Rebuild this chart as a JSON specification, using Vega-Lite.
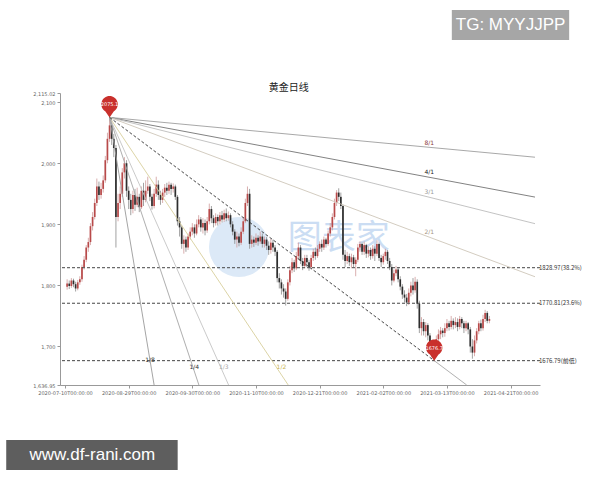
{
  "$schema": "https://vega.github.io/schema/vega-lite/v6.json",
  "width": 480,
  "height": 292,
  "autosize": "none",
  "padding": {"left": 60, "top": 93, "right": 60, "bottom": 95},
  "background": "white",
  "config": {"view": {"stroke": null}, "font": "Noto Sans CJK SC"},
  "datasets": {
    "k": [
      {"d":1,"o":1798,"h":1810,"l":1793,"c":1803},{"d":2,"o":1803,"h":1808,"l":1794,"c":1799},{"d":3,"o":1799,"h":1812,"l":1796,"c":1808},{"d":4,"o":1808,"h":1811,"l":1797,"c":1802},{"d":5,"o":1802,"h":1806,"l":1790,"c":1795},
      {"d":6,"o":1795,"h":1809,"l":1792,"c":1805},{"d":7,"o":1805,"h":1815,"l":1801,"c":1810},{"d":8,"o":1810,"h":1834,"l":1806,"c":1830},{"d":9,"o":1830,"h":1848,"l":1826,"c":1842},{"d":10,"o":1842,"h":1866,"l":1838,"c":1862},
      {"d":11,"o":1862,"h":1878,"l":1855,"c":1871},{"d":12,"o":1871,"h":1902,"l":1866,"c":1897},{"d":13,"o":1897,"h":1920,"l":1890,"c":1912},{"d":14,"o":1912,"h":1942,"l":1908,"c":1935},{"d":15,"o":1935,"h":1975,"l":1930,"c":1962},
      {"d":16,"o":1962,"h":1970,"l":1940,"c":1948},{"d":17,"o":1948,"h":1968,"l":1942,"c":1958},{"d":18,"o":1958,"h":1980,"l":1952,"c":1972},{"d":19,"o":1972,"h":2012,"l":1968,"c":2005},{"d":20,"o":2005,"h":2050,"l":2000,"c":2040},
      {"d":21,"o":2040,"h":2075.1,"l":2035,"c":2062},{"d":22,"o":2062,"h":2072,"l":2030,"c":2040},{"d":23,"o":2040,"h":2048,"l":2010,"c":2025},{"d":24,"o":2025,"h":2030,"l":1862,"c":1912},{"d":25,"o":1912,"h":1950,"l":1905,"c":1935},
      {"d":26,"o":1935,"h":1962,"l":1925,"c":1950},{"d":27,"o":1950,"h":1992,"l":1945,"c":1985},{"d":28,"o":1985,"h":2010,"l":1975,"c":2000},{"d":29,"o":2000,"h":2005,"l":1945,"c":1955},{"d":30,"o":1955,"h":1962,"l":1925,"c":1940},
      {"d":31,"o":1940,"h":1950,"l":1915,"c":1925},{"d":32,"o":1925,"h":1955,"l":1918,"c":1948},{"d":33,"o":1948,"h":1958,"l":1922,"c":1932},{"d":34,"o":1932,"h":1960,"l":1928,"c":1945},{"d":35,"o":1945,"h":1950,"l":1920,"c":1928},
      {"d":36,"o":1928,"h":1962,"l":1925,"c":1955},{"d":37,"o":1955,"h":1968,"l":1930,"c":1940},{"d":38,"o":1940,"h":1972,"l":1936,"c":1955},{"d":39,"o":1955,"h":1978,"l":1950,"c":1962},{"d":40,"o":1962,"h":1966,"l":1938,"c":1945},
      {"d":41,"o":1945,"h":1950,"l":1924,"c":1930},{"d":42,"o":1930,"h":1958,"l":1926,"c":1950},{"d":43,"o":1950,"h":1978,"l":1945,"c":1965},{"d":44,"o":1965,"h":1972,"l":1940,"c":1948},{"d":45,"o":1948,"h":1955,"l":1932,"c":1940},
      {"d":46,"o":1940,"h":1958,"l":1935,"c":1952},{"d":47,"o":1952,"h":1966,"l":1945,"c":1960},{"d":48,"o":1960,"h":1968,"l":1948,"c":1955},{"d":49,"o":1955,"h":1970,"l":1950,"c":1965},{"d":50,"o":1965,"h":1968,"l":1948,"c":1958},
      {"d":51,"o":1958,"h":1967,"l":1952,"c":1962},{"d":52,"o":1962,"h":1965,"l":1940,"c":1945},{"d":53,"o":1945,"h":1948,"l":1898,"c":1905},{"d":54,"o":1905,"h":1912,"l":1880,"c":1895},{"d":55,"o":1895,"h":1898,"l":1860,"c":1868},
      {"d":56,"o":1868,"h":1882,"l":1852,"c":1875},{"d":57,"o":1875,"h":1880,"l":1855,"c":1862},{"d":58,"o":1862,"h":1885,"l":1858,"c":1880},{"d":59,"o":1880,"h":1895,"l":1875,"c":1888},{"d":60,"o":1888,"h":1902,"l":1882,"c":1895},
      {"d":61,"o":1895,"h":1900,"l":1878,"c":1885},{"d":62,"o":1885,"h":1908,"l":1882,"c":1900},{"d":63,"o":1900,"h":1915,"l":1895,"c":1908},{"d":64,"o":1908,"h":1912,"l":1888,"c":1895},{"d":65,"o":1895,"h":1910,"l":1885,"c":1902},
      {"d":66,"o":1902,"h":1908,"l":1882,"c":1890},{"d":67,"o":1890,"h":1912,"l":1886,"c":1905},{"d":68,"o":1905,"h":1934,"l":1900,"c":1925},{"d":69,"o":1925,"h":1930,"l":1902,"c":1910},{"d":70,"o":1910,"h":1915,"l":1895,"c":1902},
      {"d":71,"o":1902,"h":1918,"l":1898,"c":1912},{"d":72,"o":1912,"h":1916,"l":1898,"c":1905},{"d":73,"o":1905,"h":1920,"l":1900,"c":1915},{"d":74,"o":1915,"h":1922,"l":1903,"c":1908},{"d":75,"o":1908,"h":1924,"l":1904,"c":1918},
      {"d":76,"o":1918,"h":1926,"l":1905,"c":1910},{"d":77,"o":1910,"h":1921,"l":1906,"c":1915},{"d":78,"o":1915,"h":1918,"l":1895,"c":1900},{"d":79,"o":1900,"h":1905,"l":1882,"c":1888},{"d":80,"o":1888,"h":1892,"l":1868,"c":1875},
      {"d":81,"o":1875,"h":1888,"l":1862,"c":1880},{"d":82,"o":1880,"h":1885,"l":1864,"c":1870},{"d":83,"o":1870,"h":1895,"l":1866,"c":1888},{"d":84,"o":1888,"h":1912,"l":1884,"c":1905},{"d":85,"o":1905,"h":1942,"l":1902,"c":1935},
      {"d":86,"o":1935,"h":1962,"l":1930,"c":1950},{"d":87,"o":1950,"h":1958,"l":1860,"c":1868},{"d":88,"o":1868,"h":1882,"l":1862,"c":1875},{"d":89,"o":1875,"h":1880,"l":1863,"c":1870},{"d":90,"o":1870,"h":1885,"l":1866,"c":1878},
      {"d":91,"o":1878,"h":1882,"l":1865,"c":1872},{"d":92,"o":1872,"h":1888,"l":1868,"c":1880},{"d":93,"o":1880,"h":1885,"l":1862,"c":1868},{"d":94,"o":1868,"h":1880,"l":1862,"c":1875},{"d":95,"o":1875,"h":1879,"l":1858,"c":1865},
      {"d":96,"o":1865,"h":1872,"l":1850,"c":1858},{"d":97,"o":1858,"h":1876,"l":1852,"c":1870},{"d":98,"o":1870,"h":1875,"l":1855,"c":1862},{"d":99,"o":1862,"h":1866,"l":1848,"c":1855},{"d":100,"o":1855,"h":1858,"l":1805,"c":1812},
      {"d":101,"o":1812,"h":1820,"l":1795,"c":1805},{"d":102,"o":1805,"h":1810,"l":1785,"c":1795},{"d":103,"o":1795,"h":1802,"l":1780,"c":1790},{"d":104,"o":1790,"h":1795,"l":1767,"c":1778},{"d":105,"o":1778,"h":1810,"l":1775,"c":1805},
      {"d":106,"o":1805,"h":1832,"l":1800,"c":1825},{"d":107,"o":1825,"h":1845,"l":1820,"c":1838},{"d":108,"o":1838,"h":1842,"l":1822,"c":1828},{"d":109,"o":1828,"h":1855,"l":1825,"c":1848},{"d":110,"o":1848,"h":1870,"l":1842,"c":1862},
      {"d":111,"o":1862,"h":1866,"l":1835,"c":1840},{"d":112,"o":1840,"h":1845,"l":1825,"c":1832},{"d":113,"o":1832,"h":1850,"l":1828,"c":1845},{"d":114,"o":1845,"h":1850,"l":1830,"c":1838},{"d":115,"o":1838,"h":1842,"l":1824,"c":1830},
      {"d":116,"o":1830,"h":1850,"l":1826,"c":1845},{"d":117,"o":1845,"h":1860,"l":1840,"c":1855},{"d":118,"o":1855,"h":1862,"l":1842,"c":1848},{"d":119,"o":1848,"h":1866,"l":1845,"c":1860},{"d":120,"o":1860,"h":1872,"l":1855,"c":1868},
      {"d":121,"o":1868,"h":1875,"l":1855,"c":1862},{"d":122,"o":1862,"h":1880,"l":1858,"c":1875},{"d":123,"o":1875,"h":1878,"l":1862,"c":1868},{"d":124,"o":1868,"h":1890,"l":1865,"c":1885},{"d":125,"o":1885,"h":1902,"l":1880,"c":1895},
      {"d":126,"o":1895,"h":1918,"l":1890,"c":1912},{"d":127,"o":1912,"h":1942,"l":1908,"c":1935},{"d":128,"o":1935,"h":1956,"l":1930,"c":1952},{"d":129,"o":1952,"h":1959,"l":1938,"c":1945},{"d":130,"o":1945,"h":1952,"l":1925,"c":1930},
      {"d":131,"o":1930,"h":1932,"l":1842,"c":1850},{"d":132,"o":1850,"h":1858,"l":1830,"c":1840},{"d":133,"o":1840,"h":1855,"l":1835,"c":1848},{"d":134,"o":1848,"h":1852,"l":1832,"c":1838},{"d":135,"o":1838,"h":1852,"l":1828,"c":1846},
      {"d":136,"o":1846,"h":1850,"l":1830,"c":1835},{"d":137,"o":1835,"h":1846,"l":1815,"c":1842},{"d":138,"o":1842,"h":1868,"l":1838,"c":1862},{"d":139,"o":1862,"h":1872,"l":1855,"c":1868},{"d":140,"o":1868,"h":1870,"l":1850,"c":1855},
      {"d":141,"o":1855,"h":1872,"l":1850,"c":1866},{"d":142,"o":1866,"h":1868,"l":1845,"c":1852},{"d":143,"o":1852,"h":1864,"l":1846,"c":1858},{"d":144,"o":1858,"h":1862,"l":1842,"c":1848},{"d":145,"o":1848,"h":1866,"l":1844,"c":1860},
      {"d":146,"o":1860,"h":1864,"l":1840,"c":1852},{"d":147,"o":1852,"h":1874,"l":1848,"c":1868},{"d":148,"o":1868,"h":1870,"l":1840,"c":1845},{"d":149,"o":1845,"h":1850,"l":1830,"c":1838},{"d":150,"o":1838,"h":1852,"l":1834,"c":1848},
      {"d":151,"o":1848,"h":1860,"l":1842,"c":1855},{"d":152,"o":1855,"h":1858,"l":1835,"c":1840},{"d":153,"o":1840,"h":1845,"l":1825,"c":1830},{"d":154,"o":1830,"h":1835,"l":1800,"c":1808},{"d":155,"o":1808,"h":1826,"l":1805,"c":1820},
      {"d":156,"o":1820,"h":1832,"l":1815,"c":1826},{"d":157,"o":1826,"h":1830,"l":1805,"c":1810},{"d":158,"o":1810,"h":1815,"l":1792,"c":1798},{"d":159,"o":1798,"h":1802,"l":1778,"c":1785},{"d":160,"o":1785,"h":1792,"l":1772,"c":1780},
      {"d":161,"o":1780,"h":1786,"l":1766,"c":1772},{"d":162,"o":1772,"h":1795,"l":1768,"c":1788},{"d":163,"o":1788,"h":1806,"l":1782,"c":1800},{"d":164,"o":1800,"h":1812,"l":1785,"c":1792},{"d":165,"o":1792,"h":1814,"l":1788,"c":1806},
      {"d":166,"o":1806,"h":1810,"l":1762,"c":1770},{"d":167,"o":1770,"h":1775,"l":1722,"c":1730},{"d":168,"o":1730,"h":1748,"l":1718,"c":1740},{"d":169,"o":1740,"h":1745,"l":1718,"c":1725},{"d":170,"o":1725,"h":1740,"l":1715,"c":1735},
      {"d":171,"o":1735,"h":1738,"l":1710,"c":1718},{"d":172,"o":1718,"h":1722,"l":1692,"c":1700},{"d":173,"o":1700,"h":1705,"l":1682,"c":1688},{"d":174,"o":1688,"h":1706,"l":1676.79,"c":1700},{"d":175,"o":1700,"h":1718,"l":1695,"c":1712},
      {"d":176,"o":1712,"h":1728,"l":1705,"c":1720},{"d":177,"o":1720,"h":1732,"l":1712,"c":1726},{"d":178,"o":1726,"h":1730,"l":1715,"c":1722},{"d":179,"o":1722,"h":1738,"l":1716,"c":1730},{"d":180,"o":1730,"h":1745,"l":1725,"c":1738},
      {"d":181,"o":1738,"h":1742,"l":1726,"c":1732},{"d":182,"o":1732,"h":1750,"l":1728,"c":1742},{"d":183,"o":1742,"h":1746,"l":1728,"c":1735},{"d":184,"o":1735,"h":1748,"l":1730,"c":1740},{"d":185,"o":1740,"h":1746,"l":1725,"c":1732},
      {"d":186,"o":1732,"h":1750,"l":1728,"c":1745},{"d":187,"o":1745,"h":1748,"l":1730,"c":1738},{"d":188,"o":1738,"h":1742,"l":1722,"c":1730},{"d":189,"o":1730,"h":1742,"l":1725,"c":1738},{"d":190,"o":1738,"h":1740,"l":1720,"c":1728},
      {"d":191,"o":1728,"h":1732,"l":1690,"c":1700},{"d":192,"o":1700,"h":1712,"l":1680,"c":1690},{"d":193,"o":1690,"h":1718,"l":1684,"c":1710},{"d":194,"o":1710,"h":1730,"l":1705,"c":1725},{"d":195,"o":1725,"h":1742,"l":1720,"c":1738},
      {"d":196,"o":1738,"h":1744,"l":1725,"c":1730},{"d":197,"o":1730,"h":1752,"l":1726,"c":1745},{"d":198,"o":1745,"h":1760,"l":1740,"c":1755},{"d":199,"o":1755,"h":1758,"l":1738,"c":1742},{"d":200,"o":1742,"h":1750,"l":1738,"c":1745}
    ],
    "fan": [
      {"k":"8/1","d1":21,"p1":2075.1,"d2":221.5,"p2":2009.9},
      {"k":"4/1","d1":21,"p1":2075.1,"d2":221.5,"p2":1944.6},
      {"k":"3/1","d1":21,"p1":2075.1,"d2":221.5,"p2":1901.1},
      {"k":"2/1","d1":21,"p1":2075.1,"d2":221.5,"p2":1814.2},
      {"k":"1/1","d1":21,"p1":2075.1,"d2":174,"p2":1676.79},
      {"k":"1/1x","d1":174,"p1":1676.79,"d2":189.3,"p2":1636.95},
      {"k":"1/2","d1":21,"p1":2075.1,"d2":105.2,"p2":1636.95},
      {"k":"1/3","d1":21,"p1":2075.1,"d2":77.1,"p2":1636.95},
      {"k":"1/4","d1":21,"p1":2075.1,"d2":63.1,"p2":1636.95},
      {"k":"1/8","d1":21,"p1":2075.1,"d2":42.0,"p2":1636.95}
    ],
    "lab": [
      {"k":"8/1","d":171.7,"p":2033.2},
      {"k":"4/1","d":171.7,"p":1985.7},
      {"k":"3/1","d":171.7,"p":1952.9},
      {"k":"2/1","d":171.7,"p":1887.5},
      {"k":"1/8","d":40.1,"p":1677.9},
      {"k":"1/4","d":60.9,"p":1666.4},
      {"k":"1/3","d":74.8,"p":1666.4},
      {"k":"1/2","d":102,"p":1666.4}
    ],
    "lv": [
      {"p":1828.97,"t":"1828.97(38.2%)"},
      {"p":1770.81,"t":"1770.81(23.6%)"},
      {"p":1676.79,"t":"1676.79(前低)"}
    ],
    "pins": [
      {"d":21,"p":2075.1,"t":"2075.1"},
      {"d":174,"p":1676.79,"t":"1676.7"}
    ]
  },
  "encoding": {
    "x": {"type": "quantitative"},
    "y": {"type": "quantitative"}
  },
  "layer": [
    {
      "data": {"values": [{"d": 82, "p": 1863}]},
      "mark": {"type": "point", "filled": true, "size": 3600, "color": "#c5dbf2", "opacity": 0.6},
      "encoding": {"x": {"field": "d", "type": "quantitative"}, "y": {"field": "p", "type": "quantitative"}}
    },
    {
      "data": {"values": [{"d": 129, "p": 1876, "t": "图表家"}]},
      "mark": {"type": "text", "fontSize": 34, "color": "#a9c8ec", "opacity": 0.6, "font": "Noto Sans CJK SC"},
      "encoding": {"x": {"field": "d", "type": "quantitative"}, "y": {"field": "p", "type": "quantitative"}, "text": {"field": "t"}}
    },
    {
      "data": {"name": "k"},
      "mark": {"type": "rule", "strokeWidth": 0.8},
      "encoding": {
        "x": {"field": "d", "type": "quantitative", "scale": {"domain": [0, 221.5], "nice": false, "zero": false},
          "axis": {"values": [0, 30, 60, 90, 120, 150, 180, 210], "labelExpr": "['2020-07-10T00:00:00','2020-08-29T00:00:00','2020-09-30T00:00:00','2020-11-10T00:00:00','2020-12-21T00:00:00','2021-02-02T00:00:00','2021-03-13T00:00:00','2021-04-21T00:00:00'][round(datum.value/30)]",
            "title": null, "grid": false, "labelFontSize": 5, "labelColor": "#666666", "domainColor": "#999999", "tickColor": "#999999", "tickSize": 3, "labelPadding": 2, "labelFont": "DejaVu Sans"}},
        "y": {"field": "l", "type": "quantitative", "scale": {"domain": [1636.95, 2115.02], "nice": false, "zero": false},
          "axis": {"values": [1636.95, 1700, 1800, 1900, 2000, 2100, 2115.02], "format": ",.2~f", "title": null, "grid": false, "labelFontSize": 5, "labelColor": "#666666", "domainColor": "#999999", "tickColor": "#999999", "tickSize": 3, "labelPadding": 2, "labelFont": "DejaVu Sans"}},
        "y2": {"field": "h"},
        "color": {"condition": {"test": "datum.c >= datum.o", "value": "#cf9a9a"}, "value": "#8a8a8a"}
      }
    },
    {
      "data": {"name": "k"},
      "mark": {"type": "bar", "size": 1.7},
      "encoding": {
        "x": {"field": "d", "type": "quantitative"},
        "y": {"field": "o", "type": "quantitative"},
        "y2": {"field": "c"},
        "color": {"condition": {"test": "datum.c >= datum.o", "value": "#b84a4a"}, "value": "#2e2e2e"}
      }
    },
    {
      "data": {"name": "lv"},
      "mark": {"type": "rule", "strokeDash": [3, 2], "strokeWidth": 1, "color": "#444444"},
      "encoding": {"y": {"field": "p", "type": "quantitative"}}
    },
    {
      "data": {"name": "lv"},
      "mark": {"type": "text", "align": "left", "baseline": "middle", "fontSize": 6, "color": "#333333", "dx": 4, "font": "Noto Sans CJK SC"},
      "encoding": {"x": {"datum": 221.5, "type": "quantitative"}, "y": {"field": "p", "type": "quantitative"}, "text": {"field": "t"}}
    },
    {
      "data": {"name": "fan"},
      "transform": [{"filter": "datum.k != '1/1'"}],
      "mark": {"type": "rule", "strokeWidth": 0.9},
      "encoding": {
        "x": {"field": "d1", "type": "quantitative"},
        "y": {"field": "p1", "type": "quantitative"},
        "x2": {"field": "d2"},
        "y2": {"field": "p2"},
        "color": {"field": "k", "type": "nominal", "legend": null,
          "scale": {"domain": ["8/1","4/1","3/1","2/1","1/1x","1/2","1/3","1/4","1/8"], "range": ["#9e9e9e","#747474","#bcbcbc","#cec6b9","#a8a8a8","#d8cf9c","#c4c4c4","#a5a5a5","#9a9a9a"]}}
      }
    },
    {
      "data": {"name": "fan"},
      "transform": [{"filter": "datum.k == '1/1'"}],
      "mark": {"type": "rule", "strokeWidth": 0.9, "strokeDash": [3, 2], "color": "#333333"},
      "encoding": {
        "x": {"field": "d1", "type": "quantitative"},
        "y": {"field": "p1", "type": "quantitative"},
        "x2": {"field": "d2"},
        "y2": {"field": "p2"}
      }
    },
    {
      "data": {"name": "lab"},
      "mark": {"type": "text", "fontSize": 6, "align": "center", "baseline": "middle", "font": "DejaVu Sans"},
      "encoding": {
        "x": {"field": "d", "type": "quantitative"},
        "y": {"field": "p", "type": "quantitative"},
        "text": {"field": "k"},
        "color": {"field": "k", "type": "nominal", "legend": null,
          "scale": {"domain": ["8/1","4/1","3/1","2/1","1/8","1/4","1/3","1/2"], "range": ["#8b3a3a","#222222","#999999","#a39382","#333333","#333333","#aaaaaa","#c9b24a"]}}
      }
    },
    {
      "data": {"name": "pins"},
      "mark": {"type": "point", "filled": true, "opacity": 1, "size": 300, "color": "#c9302c", "strokeWidth": 0,
        "shape": "M0,0 L-0.5,-0.7 A0.95,0.95 0 1,1 0.5,-0.7 Z"},
      "encoding": {"x": {"field": "d", "type": "quantitative"}, "y": {"field": "p", "type": "quantitative"}}
    },
    {
      "data": {"name": "pins"},
      "mark": {"type": "text", "fontSize": 5, "color": "white", "dy": -13, "baseline": "middle", "font": "DejaVu Sans"},
      "encoding": {"x": {"field": "d", "type": "quantitative"}, "y": {"field": "p", "type": "quantitative"}, "text": {"field": "t"}}
    },
    {
      "data": {"values": [{"d": 105.4, "p": 2123.5, "t": "黄金日线"}]},
      "mark": {"type": "text", "clip": false, "fontSize": 10, "color": "#222222", "baseline": "middle", "align": "center", "font": "Noto Sans CJK SC"},
      "encoding": {"x": {"field": "d", "type": "quantitative"}, "y": {"field": "p", "type": "quantitative"}, "text": {"field": "t"}}
    },
    {
      "data": {"values": [{"x1": 182.3, "x2": 237.6, "y1": 2250.9, "y2": 2201.8}, {"x1": -27.7, "x2": 53.1, "y1": 1546.9, "y2": 1497.8}]},
      "mark": {"type": "rect", "clip": false},
      "encoding": {
        "x": {"field": "x1", "type": "quantitative"}, "x2": {"field": "x2"},
        "y": {"field": "y1", "type": "quantitative"}, "y2": {"field": "y2"},
        "color": {"condition": {"test": "datum.x1 > 0", "value": "#a6a6a6"}, "value": "#5e5e5e"}
      }
    },
    {
      "data": {"values": [{"d": 210, "p": 2226.3, "t": "TG: MYYJJPP"}, {"d": 12.9, "p": 1522.4, "t": "www.df-rani.com"}]},
      "mark": {"type": "text", "clip": false, "fontSize": 17, "color": "white", "baseline": "middle", "align": "center", "font": "Liberation Sans"},
      "encoding": {"x": {"field": "d", "type": "quantitative"}, "y": {"field": "p", "type": "quantitative"}, "text": {"field": "t"}}
    }
  ],
  "resolve": {"scale": {"color": "independent"}}
}
